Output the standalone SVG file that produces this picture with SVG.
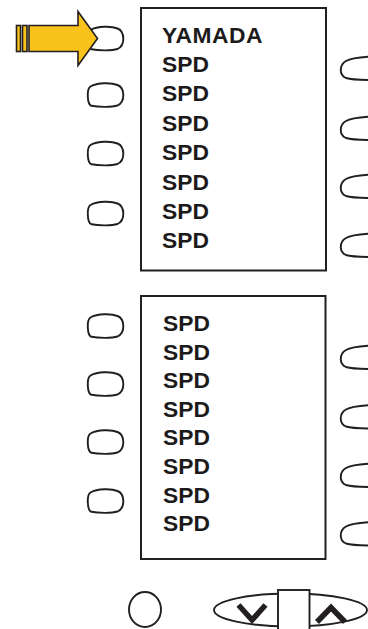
<svg xmlns="http://www.w3.org/2000/svg" xmlns:xlink="http://www.w3.org/1999/xlink" width="368" height="629" viewBox="0 0 368 629">
<style>
.ln{fill:none;stroke:#231f20;stroke-width:1.9}
.box{fill:#fff;stroke:#231f20;stroke-width:2}
.key{fill:#fff;stroke:#231f20;stroke-width:1.9}
.t{font-family:"Liberation Sans",Arial,sans-serif;font-weight:bold;font-size:22.8px;fill:#1c1a1b}
.chev{fill:none;stroke:#231f20;stroke-width:5.5;stroke-linejoin:miter;stroke-linecap:butt}
.ar{fill:#f9c31c;stroke:#231f20;stroke-width:1.6;stroke-linejoin:miter}
</style>
<defs>
<path id="lk" d="M -15,-8.5 C -8,-12.5 6,-12.5 12,-10 C 19.5,-7 20,7 12,10.5 C 6,12.5 -8,12 -14,10.8 C -18.5,9.5 -19,-6 -15,-8.5 Z"/>
<path id="rk" d="M 372,-11.5 C 362,-11 351,-10 346,-7 C 339,-3 339,7 346,10 C 352,12 362,12 372,12"/>
</defs>
<rect width="368" height="629" fill="#fff"/>
<g id="left-keys" class="key">
<use xlink:href="#lk" x="105.5" y="38.5"/>
<use xlink:href="#lk" x="105.5" y="95"/>
<use xlink:href="#lk" x="105.5" y="153.5"/>
<use xlink:href="#lk" x="105.5" y="213.5"/>
<use xlink:href="#lk" x="105.5" y="326"/>
<use xlink:href="#lk" x="105.5" y="384"/>
<use xlink:href="#lk" x="105.5" y="442"/>
<use xlink:href="#lk" x="105.5" y="501"/>
</g>
<g id="right-keys" class="ln">
<use xlink:href="#rk" y="68"/>
<use xlink:href="#rk" y="128"/>
<use xlink:href="#rk" y="186"/>
<use xlink:href="#rk" y="245"/>
<use xlink:href="#rk" y="357"/>
<use xlink:href="#rk" y="416.5"/>
<use xlink:href="#rk" y="475"/>
<use xlink:href="#rk" y="533.5"/>
</g>
<g id="arrow">
<rect class="ar" x="16.5" y="25.5" width="4" height="26"/>
<rect class="ar" x="22.5" y="25.5" width="4.5" height="26"/>
<path class="ar" d="M 29,25.5 L 78,25.5 L 78,11.5 L 97.5,38.5 L 78,65.5 L 78,51.5 L 29,51.5 Z"/>
</g>
<g id="display-top">
<rect class="box" x="141" y="8" width="185" height="262.5"/>
<text class="t" x="162" y="42.5" letter-spacing="0.5">YAMADA</text>
<text class="t" x="162" y="71.9">SPD</text>
<text class="t" x="162" y="101.3">SPD</text>
<text class="t" x="162" y="130.7">SPD</text>
<text class="t" x="162" y="160.1">SPD</text>
<text class="t" x="162" y="189.5">SPD</text>
<text class="t" x="162" y="218.9">SPD</text>
<text class="t" x="162" y="248.3">SPD</text>
</g>
<g id="display-bottom">
<rect class="box" x="141" y="296" width="184.5" height="263"/>
<text class="t" x="163" y="331">SPD</text>
<text class="t" x="163" y="359.6">SPD</text>
<text class="t" x="163" y="388.2">SPD</text>
<text class="t" x="163" y="416.8">SPD</text>
<text class="t" x="163" y="445.4">SPD</text>
<text class="t" x="163" y="474">SPD</text>
<text class="t" x="163" y="502.6">SPD</text>
<text class="t" x="163" y="531.2">SPD</text>
</g>
<g id="round-key">
<ellipse class="key" cx="145" cy="609.5" rx="16" ry="17.5"/>
</g>
<g id="scroll-key">
<ellipse class="key" cx="290.5" cy="610" rx="76.5" ry="16.5"/>
<rect class="key" x="278" y="590" width="31.5" height="45"/>
<polyline class="chev" points="238.5,605 252,620 265.5,605"/>
<polyline class="chev" points="317,622 331,607.5 345,622"/>
</g>
</svg>
